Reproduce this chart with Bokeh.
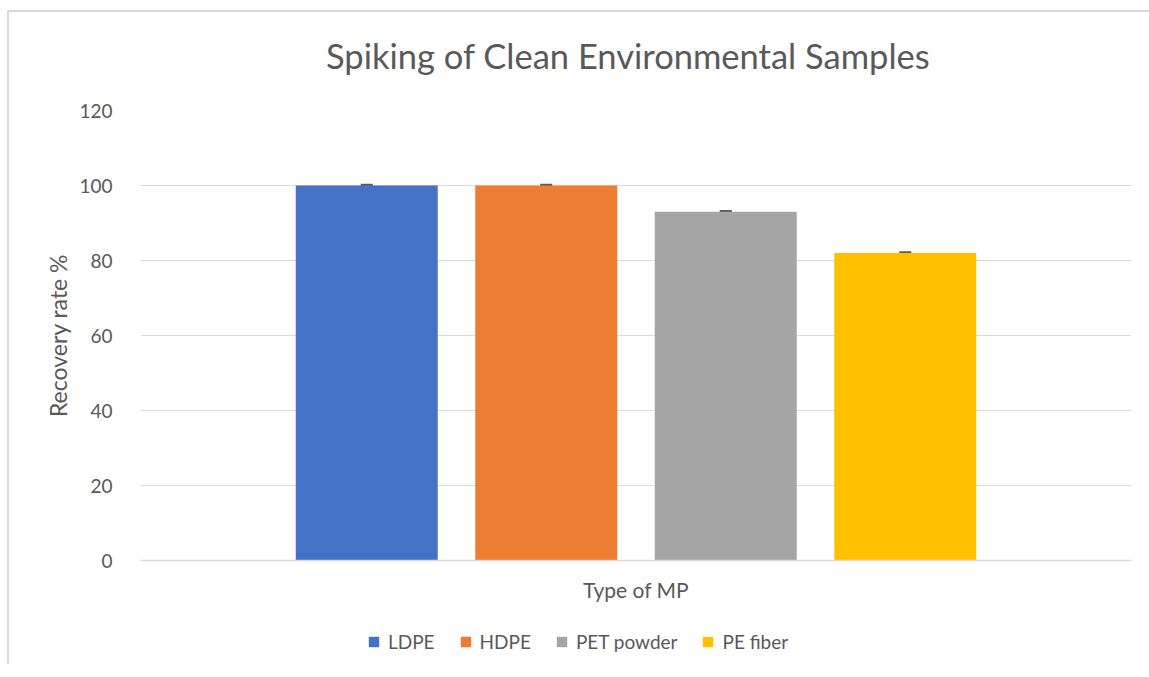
from bokeh.plotting import figure
from bokeh.layouts import column
from bokeh.models import ColumnDataSource, Range1d, Whisker, Legend, LegendItem, FixedTicker, Div
from bokeh.embed import file_html
from bokeh.resources import INLINE

title_text = "Spiking of Clean Environmental Samples"
categories = ["LDPE", "HDPE", "PET powder", "PE fiber"]
values = [100, 100, 93, 82]
errors = [0.2, 0.2, 0.2, 0.2]
colors = ["#4472C4", "#ED7D31", "#A5A5A5", "#FFC000"]
y_ticks = [0, 20, 40, 60, 80, 100, 120]

FONT = "Lato"
GREY = "#595959"

n = len(categories)
xs = [i - (n - 1) / 2 for i in range(n)]
half = 2.7604

title_div = Div(text=title_text, width=1140, height=60,
                styles={"font-family": FONT, "font-size": "34.5px", "line-height": "34.5px",
                        "color": GREY, "white-space": "nowrap",
                        "padding-top": "22px", "padding-left": "312px",
                        "box-sizing": "border-box"})

p = figure(frame_width=991, frame_height=450, output_backend="svg", toolbar_location=None,
           x_range=Range1d(-half, half), y_range=Range1d(0, 120),
           min_border_left=131, min_border_right=18, min_border_top=28, min_border_bottom=64)
p.outline_line_color = None
p.background_fill_color = "white"
p.border_fill_color = "white"

for i in range(n):
    src = ColumnDataSource(dict(x=[xs[i]], top=[values[i]],
                                upper=[values[i] + errors[i]], lower=[values[i] - errors[i]]))
    p.vbar(x="x", top="top", width=0.791, bottom=0, source=src,
           fill_color=colors[i], line_color=None)
    w = Whisker(base="x", upper="upper", lower="lower", source=src, dimension="height",
                line_color=GREY, line_width=1)
    w.upper_head.size = 12
    w.lower_head.size = 12
    w.upper_head.line_color = GREY
    w.lower_head.line_color = GREY
    w.upper_head.line_width = 2
    w.lower_head.line_width = 2
    p.add_layout(w)

p.xgrid.visible = False
p.ygrid.grid_line_color = "#d9d9d9"
p.ygrid.grid_line_width = 1
p.yaxis.ticker = FixedTicker(ticks=y_ticks)
p.yaxis.axis_line_color = None
p.yaxis.major_tick_line_color = None
p.yaxis.minor_tick_line_color = None
p.yaxis.major_label_standoff = 22
p.yaxis.major_label_text_font = FONT
p.yaxis.major_label_text_font_size = "19px"
p.yaxis.major_label_text_color = GREY
p.yaxis.axis_label = "Recovery rate %"
p.yaxis.axis_label_text_font = FONT
p.yaxis.axis_label_text_font_size = "23px"
p.yaxis.axis_label_text_font_style = "normal"
p.yaxis.axis_label_text_color = GREY
p.yaxis.axis_label_standoff = 4

p.xaxis.ticker = FixedTicker(ticks=[])
p.xaxis.major_label_text_font_size = "0px"
p.xaxis.major_label_standoff = 0
p.xaxis.major_tick_line_color = None
p.xaxis.minor_tick_line_color = None
p.xaxis.axis_line_color = "#d9d9d9"
p.xaxis.axis_line_width = 1.5
p.xaxis.axis_label = "Type of MP"
p.xaxis.axis_label_text_font = FONT
p.xaxis.axis_label_text_font_size = "21px"
p.xaxis.axis_label_text_font_style = "normal"
p.xaxis.axis_label_text_color = GREY
p.xaxis.axis_label_standoff = 16

# legend strip (separate figure so the legend is not clipped); its bars lie outside its ranges
pl = figure(frame_width=1140, frame_height=40, output_backend="svg", toolbar_location=None,
            x_range=Range1d(-1000, -900), y_range=Range1d(-1000, -900),
            min_border_left=0, min_border_right=0, min_border_top=0, min_border_bottom=0)
pl.outline_line_color = None
pl.axis.visible = False
pl.grid.visible = False
pl.background_fill_color = "white"
pl.border_fill_color = "white"
items = []
for i in range(n):
    r = pl.vbar(x=[xs[i]], top=[values[i]], width=0.791, bottom=0,
                fill_color=colors[i], line_color=None)
    items.append(LegendItem(label=categories[i], renderers=[r]))
legend = Legend(items=items, orientation="horizontal", location=(358, 11),
                label_text_font=FONT, label_text_font_size="19px", label_text_color=GREY,
                glyph_width=13, glyph_height=13, label_standoff=8, spacing=24,
                border_line_color=None, background_fill_alpha=0, margin=0, padding=0)
pl.add_layout(legend, "center")

layout = column(title_div, p, pl, spacing=0,
                styles={"border-left": "2px solid #d9d9d9", "border-top": "2px solid #d9d9d9",
                        "margin-left": "7px", "margin-top": "10px"})

open("out.html", "w").write(file_html(layout, INLINE))
